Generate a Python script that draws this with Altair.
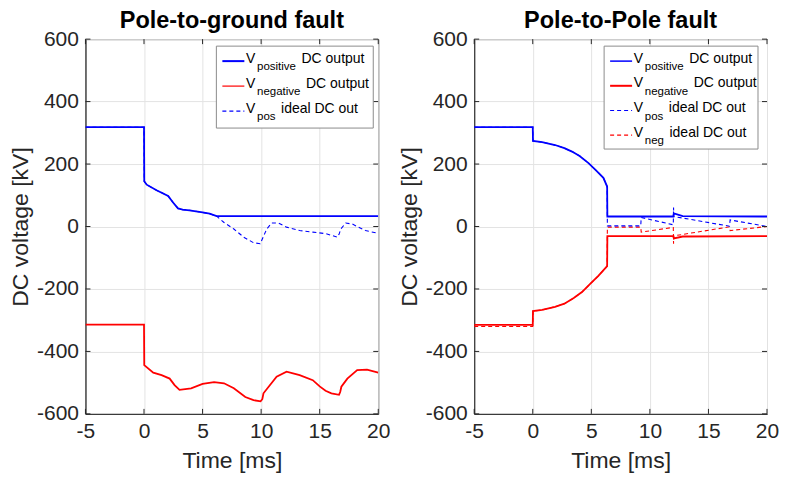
import altair as alt
import pandas as pd

# ---------------- data ----------------
# Left panel: Pole-to-ground fault
gt_pos_t = [-5, 0, 0.02, 0.23, 1.07, 2.06, 2.48, 2.9, 3.3, 3.88, 5.0, 5.6, 6.2, 20]
gt_pos_v = [318, 318, 145, 134, 116, 98, 77, 58, 54, 52, 45, 41, 33, 33]

gt_neg_t = [-5, 0, 0.02, 0.79, 1.5, 2.19, 2.61, 3.03, 4.02, 5.0, 5.98, 6.83, 7.67, 8.65,
            9.35, 9.95, 10.1, 10.2, 11.32, 12.17, 13.29, 14.41, 15.0, 15.5, 16.0, 16.65,
            16.75, 16.85, 17.36, 18.2, 19.04, 20]
gt_neg_v = [-314, -314, -444, -468, -476, -487, -508, -523, -518, -504, -498, -502, -518, -546,
            -556, -560, -553, -534, -481, -465, -476, -492, -512, -526, -534, -539,
            -530, -513, -487, -460, -458, -468]

gt_ideal_t = [-5, 0, 0.02, 0.23, 1.07, 2.06, 2.48, 2.9, 3.3, 3.88, 5.0, 5.6, 6.2, 6.83, 7.67,
              8.51, 9.35, 9.92, 10.1, 10.48, 10.9, 11.46, 12.17, 13.29, 14.41, 15.54, 16.51,
              16.65, 16.8, 17.22, 17.78, 18.9, 20]
gt_ideal_v = [318, 318, 145, 134, 116, 98, 77, 58, 54, 52, 45, 41, 33, 13, -8,
              -34, -52, -55, -40, -8, 11, 11, -2, -13, -18, -23, -34,
              -25, -8, 11, 8, -13, -22]

# Right panel: Pole-to-Pole fault
pp_pos_t = [-5, 0, 0.02, 0.8, 1.9, 2.7, 3.35, 4.0, 4.76, 5.4, 6.03, 6.35, 6.37, 12.0, 12.05, 12.8, 20]
pp_pos_v = [318, 318, 274, 270, 261, 251, 240, 226, 203, 180, 156, 128, 32, 32, 42, 33, 32]

pp_neg_t = [-5, 0, 0.02, 0.8, 1.9, 2.7, 3.5, 4.2, 4.9, 5.6, 6.35, 6.37, 12.0, 12.05, 12.8, 20]
pp_neg_v = [-315, -315, -271, -267, -257, -247, -229, -210, -184, -158, -127, -31, -31, -38, -32, -31]

pp_pideal_t = [-5, 0, 0.02, 0.8, 1.9, 2.7, 3.35, 4.0, 4.76, 5.4, 6.03, 6.35, 6.37, 9.22,
               9.26, 11.94, 12.0, 12.02, 12.04, 16.8, 16.85, 20]
pp_pideal_v = [318, 318, 274, 270, 261, 251, 240, 226, 203, 180, 156, 128, 2, 2,
               29, 6, 6, 61, 32, 1, 21, 0]

pp_nideal_t = [-5, 0, 0.02, 0.8, 1.9, 2.7, 3.5, 4.2, 4.9, 5.6, 6.35, 6.37, 9.22,
               9.26, 11.94, 12.0, 12.02, 12.04, 16.8, 16.85, 20]
pp_nideal_v = [-320, -320, -271, -267, -257, -247, -229, -210, -184, -158, -127, -2, -2,
               -18, -3, -3, -55, -30, -1, -13, 0]

x_ticks = [-5, 0, 5, 10, 15, 20]
y_ticks = [-600, -400, -200, 0, 200, 400, 600]

titles = ["Pole-to-ground fault", "Pole-to-Pole fault"]
x_title = "Time [ms]"
y_title = "DC voltage [kV]"

leg_main = "V"
leg_gt_sub = ["positive", "negative", "pos"]
leg_gt_rest = ["DC output", "DC output", "ideal DC out"]
leg_pp_sub = ["positive", "negative", "pos", "neg"]
leg_pp_rest = ["DC output", "DC output", "ideal DC out", "ideal DC out"]

# ---------------- styling ----------------
FONT = "Liberation Sans"
W, H = 293, 375
AX = "#262626"
BLUE = "#0000ff"
RED = "#ff0000"

xs = alt.Scale(domain=[-5, 20], nice=False, zero=False)
ys = alt.Scale(domain=[-600, 600], nice=False, zero=False)

xaxis = alt.Axis(values=x_ticks, title=x_title, labelExpr="'' + datum.value",
                 labelFontSize=21, titleFontSize=23, labelPadding=7, titlePadding=8,
                 labelFlush=False, ticks=False, grid=True)
yaxis = alt.Axis(values=y_ticks, title=y_title, labelExpr="'' + datum.value",
                 labelFontSize=21, titleFontSize=23, labelPadding=7, titlePadding=4,
                 minExtent=49, maxExtent=49,
                 labelFlush=False, ticks=False, grid=True)

one = pd.DataFrame({"a": [0]})


def series(t, v, color, width, dash=None):
    df = pd.DataFrame({"t": t, "v": v, "i": list(range(len(t)))})
    kw = dict(color=color, strokeWidth=width, clip=True)
    if dash:
        kw["strokeDash"] = dash
    return alt.Chart(df).mark_line(**kw).encode(
        x=alt.X("t:Q", scale=xs, axis=xaxis),
        y=alt.Y("v:Q", scale=ys, axis=yaxis),
        order="i:Q",
    )


def tick_layers():
    yt = pd.DataFrame({"v": y_ticks})
    xt = pd.DataFrame({"t": x_ticks})
    ly = alt.Chart(yt).mark_rule(color=AX, strokeWidth=1).encode(
        y=alt.Y("v:Q", scale=ys, axis=yaxis), x=alt.value(0), x2=alt.value(5))
    ry = alt.Chart(yt).mark_rule(color=AX, strokeWidth=1).encode(
        y=alt.Y("v:Q", scale=ys, axis=yaxis), x=alt.value(W - 5), x2=alt.value(W))
    bx = alt.Chart(xt).mark_rule(color=AX, strokeWidth=1).encode(
        x=alt.X("t:Q", scale=xs, axis=xaxis), y=alt.value(H - 5), y2=alt.value(H))
    tx = alt.Chart(xt).mark_rule(color=AX, strokeWidth=1).encode(
        x=alt.X("t:Q", scale=xs, axis=xaxis), y=alt.value(0), y2=alt.value(5))
    return [ly, ry, bx, tx]


def title_layer(text):
    return alt.Chart(one).mark_text(font=FONT, fontSize=23.5, fontWeight="bold", align="center",
                                    baseline="alphabetic", color="#000").encode(
        x=alt.value(W / 2), y=alt.value(-11), text=alt.value(text))


def legend(x0, y0, w, h, step, subs, rests, styles):
    layers = [alt.Chart(one).mark_rect(fill="white", stroke="#8c8c8c", strokeWidth=1).encode(
        x=alt.value(x0), x2=alt.value(x0 + w), y=alt.value(y0), y2=alt.value(y0 + h))]
    sub_w = {"positive": 39.0, "negative": 43.5, "pos": 18.5, "neg": 19.2}
    for k, (sub, rest, (color, width, dash)) in enumerate(zip(subs, rests, styles)):
        yk = y0 + 15 + step * k
        kw = dict(color=color, strokeWidth=width)
        if dash:
            kw["strokeDash"] = dash
        layers.append(alt.Chart(one).mark_rule(**kw).encode(
            x=alt.value(x0 + 6), x2=alt.value(x0 + 28), y=alt.value(yk)))
        layers.append(alt.Chart(one).mark_text(font=FONT, fontSize=14, align="left",
                                               baseline="alphabetic", color="#000").encode(
            x=alt.value(x0 + 29.7), y=alt.value(yk + 1.7), text=alt.value(leg_main)))
        layers.append(alt.Chart(one).mark_text(font=FONT, fontSize=11.5, align="left",
                                               baseline="alphabetic", color="#000").encode(
            x=alt.value(x0 + 40.7), y=alt.value(yk + 9.3), text=alt.value(sub)))
        layers.append(alt.Chart(one).mark_text(font=FONT, fontSize=14, align="left",
                                               baseline="alphabetic", color="#000").encode(
            x=alt.value(x0 + 40.7 + sub_w[sub] + 5.5), y=alt.value(yk + 1.7), text=alt.value(rest)))
    return layers


DASH = [4, 3]

left = alt.layer(
    series(gt_pos_t, gt_pos_v, BLUE, 1.8),
    series(gt_ideal_t, gt_ideal_v, BLUE, 1.1, DASH),
    series(gt_neg_t, gt_neg_v, RED, 1.8),
    *tick_layers(),
    *legend(W - 162, 7, 157, 82, 25, leg_gt_sub, leg_gt_rest,
            [(BLUE, 2, None), (RED, 1.2, None), (BLUE, 1.2, DASH)]),
    title_layer(titles[0]),
).properties(width=W, height=H)

right = alt.layer(
    series(pp_nideal_t, pp_nideal_v, RED, 1.1, DASH),
    series(pp_pideal_t, pp_pideal_v, BLUE, 1.1, DASH),
    series(pp_pos_t, pp_pos_v, BLUE, 1.8),
    series(pp_neg_t, pp_neg_v, RED, 1.8),
    *tick_layers(),
    *legend(W - 163, 7, 154, 103, 24.7, leg_pp_sub, leg_pp_rest,
            [(BLUE, 1.5, None), (RED, 2, None), (BLUE, 1.2, DASH), (RED, 1.2, DASH)]),
    title_layer(titles[1]),
).properties(width=W, height=H)

chart = alt.hconcat(left, right, spacing=6).properties(
    padding={"left": 0.5, "top": 0, "right": 0, "bottom": 0},
    background="white",
).configure_view(stroke=AX, strokeWidth=1).configure_axis(
    gridColor="#e3e3e3", gridWidth=1, domainColor=AX, labelColor=AX, titleColor=AX,
    labelFont=FONT, titleFont=FONT, titleFontWeight="normal",
)

chart.save("out.html", embed_options={"renderer": "svg", "actions": False})
